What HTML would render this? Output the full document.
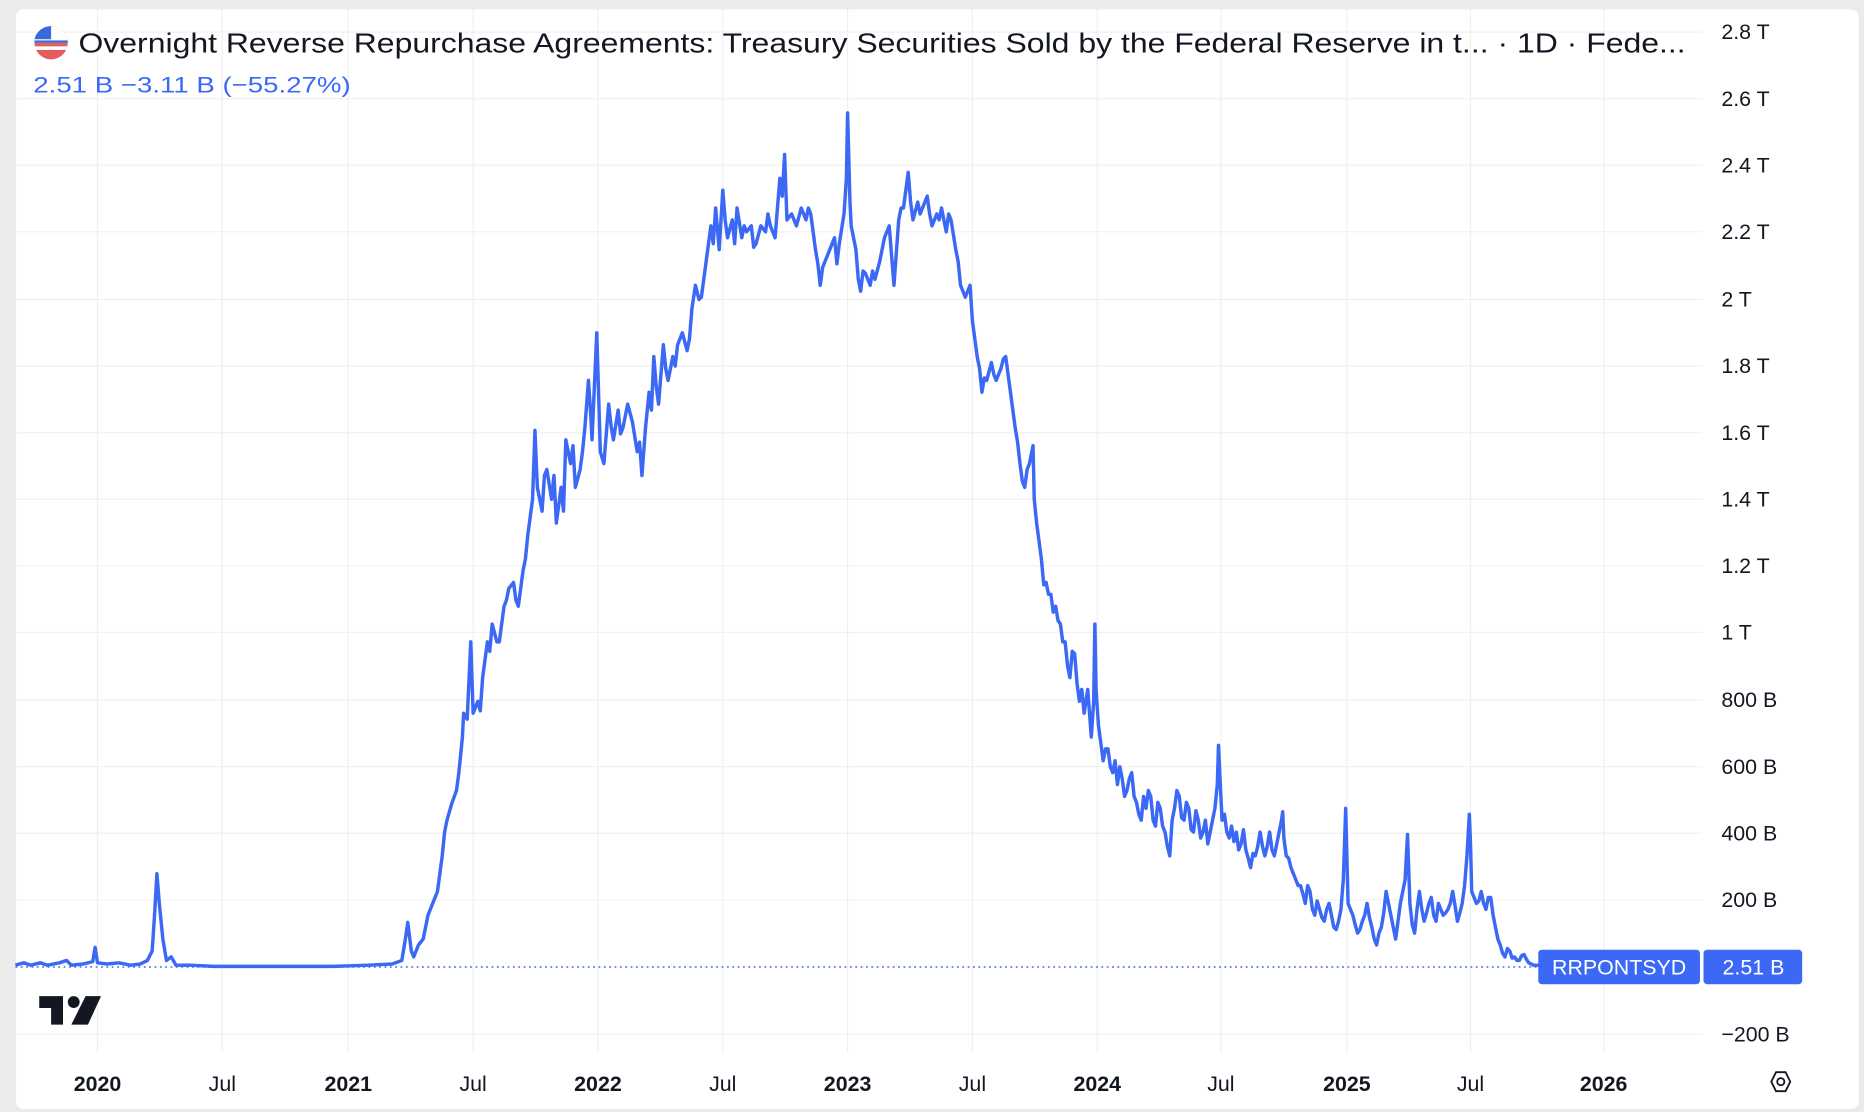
<!DOCTYPE html>
<html><head><meta charset="utf-8"><style>
html,body{margin:0;padding:0;background:#ebebeb;}
svg{display:block;}
text{font-family:"Liberation Sans",Arial,sans-serif;}
</style></head><body>
<svg width="1864" height="1112" viewBox="0 0 1568 935.5" preserveAspectRatio="none" xmlns="http://www.w3.org/2000/svg">
<rect x="0" y="0" width="1568" height="935.5" fill="#ebebeb"/>
<rect x="13.5" y="8" width="1550" height="925" rx="6" fill="#ffffff"/>
<g stroke="#f0f0f0" stroke-width="1">
<line x1="13" x2="1432" y1="27" y2="27"/><line x1="13" x2="1432" y1="83" y2="83"/><line x1="13" x2="1432" y1="139" y2="139"/><line x1="13" x2="1432" y1="195" y2="195"/><line x1="13" x2="1432" y1="252" y2="252"/><line x1="13" x2="1432" y1="308" y2="308"/><line x1="13" x2="1432" y1="364" y2="364"/><line x1="13" x2="1432" y1="420" y2="420"/><line x1="13" x2="1432" y1="476" y2="476"/><line x1="13" x2="1432" y1="532" y2="532"/><line x1="13" x2="1432" y1="589" y2="589"/><line x1="13" x2="1432" y1="645" y2="645"/><line x1="13" x2="1432" y1="701" y2="701"/><line x1="13" x2="1432" y1="757" y2="757"/><line x1="13" x2="1432" y1="870" y2="870"/>
<line x1="82" x2="82" y1="8" y2="886"/><line x1="187" x2="187" y1="8" y2="886"/><line x1="293" x2="293" y1="8" y2="886"/><line x1="398" x2="398" y1="8" y2="886"/><line x1="503" x2="503" y1="8" y2="886"/><line x1="608" x2="608" y1="8" y2="886"/><line x1="713" x2="713" y1="8" y2="886"/><line x1="818" x2="818" y1="8" y2="886"/><line x1="923" x2="923" y1="8" y2="886"/><line x1="1027" x2="1027" y1="8" y2="886"/><line x1="1133" x2="1133" y1="8" y2="886"/><line x1="1237" x2="1237" y1="8" y2="886"/><line x1="1349" x2="1349" y1="8" y2="886"/>
</g>
<line x1="13" x2="1295" y1="813.5" y2="813.5" stroke="#3b68f4" stroke-width="1.3" stroke-dasharray="1.5,3"/>
<polyline fill="none" stroke="#3b68f4" stroke-width="2.9" stroke-linejoin="round" points="13,812 20,810 26,812 34,810 40,812 50,810 56,808 60,812 70,811 78,809 80,797 82,810 90,811 100,810 110,812 118,811 124,808 128,800 130,770 132,735 134,760 137,790 140,808 144,805 148,812 160,812 180,813 220,813 280,813 310,812 330,811 338,808 341,790 343,776 346,800 348,805 352,795 356,790 360,770 364,760 368,750 372,720 374,700 376,690 380,676 384,665 386,650 389,620 390,600 393,605 396,540 398,600 402,590 404,598 406,570 410,540 412,548 414,525 418,540 420,540 424,510 426,505 428,495 432,490 434,505 436,510 440,480 442,470 444,450 446,435 448,420 450,362 452,410 456,430 458,400 460,395 464,420 466,400 468,440 472,410 474,430 476,370 480,390 482,375 484,410 488,395 490,380 492,360 495,320 497,350 498,370 502,280 505,380 508,390 512,340 514,358 516,370 520,345 522,365 524,360 528,340 532,355 536,380 538,372 540,400 543,360 546,330 548,345 550,300 552,325 554,340 558,290 560,310 562,320 566,300 568,308 570,290 574,280 578,295 580,285 582,260 585,240 588,252 590,250 594,220 598,190 600,205 602,175 605,210 608,160 610,185 612,200 616,185 618,205 620,175 624,200 626,190 628,195 632,190 634,208 636,205 640,190 644,195 646,180 648,190 652,200 656,150 658,165 660,130 662,185 666,180 670,190 674,175 678,185 680,175 682,180 686,210 688,222 690,240 692,225 694,220 698,210 702,200 704,222 706,205 710,180 712,150 713,95 715,170 716,190 720,210 722,235 724,245 726,228 728,230 732,240 734,228 736,235 740,220 742,210 744,200 748,190 750,215 752,240 756,185 758,175 760,175 764,145 766,170 768,185 772,170 774,180 776,175 780,165 782,180 784,190 788,180 790,185 792,175 796,195 798,180 800,185 804,210 806,220 808,240 812,250 814,245 816,240 818,270 820,285 822,300 824,310 826,330 828,318 830,320 834,305 836,315 838,320 842,310 844,302 846,300 848,315 850,330 852,345 854,360 856,372 858,390 860,405 862,410 864,395 866,390 869,375 870,420 872,440 874,455 876,470 878,492 880,490 882,500 884,500 886,515 888,510 890,522 892,525 894,540 896,540 898,560 900,570 902,548 904,550 906,575 908,590 910,580 912,600 915,580 918,620 920,590 921,525 922,580 924,610 926,625 928,640 930,630 932,630 934,645 936,650 938,640 940,660 942,645 944,655 946,670 948,665 950,655 952,650 954,670 956,675 958,685 960,690 962,670 964,680 966,665 968,670 970,690 972,695 974,675 976,680 978,695 980,700 982,712 984,720 986,690 988,680 990,665 992,670 994,688 996,690 998,675 1000,680 1002,698 1004,700 1006,682 1008,690 1010,705 1012,700 1014,690 1016,710 1018,700 1020,690 1022,680 1024,660 1025,627 1027,670 1028,690 1030,685 1032,700 1034,705 1036,695 1038,708 1040,700 1042,715 1044,710 1046,698 1048,715 1050,722 1052,730 1054,718 1056,720 1058,712 1060,700 1062,712 1064,720 1066,712 1068,700 1070,715 1072,720 1074,710 1076,700 1078,690 1079,683 1080,705 1082,720 1084,722 1086,730 1088,735 1090,740 1092,745 1094,745 1096,752 1098,760 1100,745 1102,750 1104,765 1106,770 1108,758 1110,765 1112,772 1114,775 1116,765 1118,760 1120,770 1122,780 1124,782 1126,775 1128,765 1130,740 1132,680 1133,720 1134,760 1136,765 1138,770 1140,778 1142,785 1144,782 1146,775 1148,770 1150,760 1152,772 1154,780 1156,790 1158,795 1160,785 1162,780 1164,768 1166,750 1168,760 1170,770 1172,780 1174,790 1176,775 1178,760 1180,750 1182,740 1184,702 1186,760 1188,778 1190,785 1192,765 1194,750 1196,765 1198,775 1200,768 1202,760 1204,755 1206,770 1208,775 1210,760 1212,765 1214,770 1216,768 1218,765 1220,760 1222,750 1224,762 1226,775 1228,768 1230,760 1232,745 1234,720 1236,685 1237,710 1238,750 1240,755 1242,760 1244,758 1246,750 1248,760 1250,765 1252,755 1254,755 1256,770 1258,780 1260,790 1262,795 1264,802 1266,805 1268,798 1270,800 1272,806 1274,805 1276,808 1278,808 1280,804 1282,803 1284,807 1286,810 1288,811 1290,812 1295,812"/>
<g font-size="18" fill="#131722">
<text x="1448" y="33">2.8 T</text><text x="1448" y="89">2.6 T</text><text x="1448" y="145">2.4 T</text><text x="1448" y="201">2.2 T</text><text x="1448" y="258">2 T</text><text x="1448" y="314">1.8 T</text><text x="1448" y="370">1.6 T</text><text x="1448" y="426">1.4 T</text><text x="1448" y="482">1.2 T</text><text x="1448" y="538">1 T</text><text x="1448" y="595">800 B</text><text x="1448" y="651">600 B</text><text x="1448" y="707">400 B</text><text x="1448" y="763">200 B</text><text x="1448" y="876">−200 B</text>
</g>
<rect x="1294" y="799" width="136" height="29" rx="3" fill="#3b68f4"/>
<rect x="1433" y="799" width="83" height="29" rx="3" fill="#3b68f4"/>
<text x="1362" y="820" font-size="18" fill="#fff" text-anchor="middle">RRPONTSYD</text>
<text x="1475" y="820" font-size="18" fill="#fff" text-anchor="middle">2.51 B</text>
<g font-size="18" fill="#131722" text-anchor="middle">
<text x="82" y="918" font-weight="bold">2020</text><text x="187" y="918">Jul</text><text x="293" y="918" font-weight="bold">2021</text><text x="398" y="918">Jul</text><text x="503" y="918" font-weight="bold">2022</text><text x="608" y="918">Jul</text><text x="713" y="918" font-weight="bold">2023</text><text x="818" y="918">Jul</text><text x="923" y="918" font-weight="bold">2024</text><text x="1027" y="918">Jul</text><text x="1133" y="918" font-weight="bold">2025</text><text x="1237" y="918">Jul</text><text x="1349" y="918" font-weight="bold">2026</text>
</g>
<polygon points="1490,910 1494,902 1502,902 1506,910 1502,918 1494,918" fill="none" stroke="#131722" stroke-width="1.5"/>
<circle cx="1498" cy="910" r="3" fill="none" stroke="#131722" stroke-width="1.5"/>
<g fill="#131722">
<path d="M33,838 H53 V862 H43 V848 H33 Z"/>
<circle cx="62" cy="843" r="5"/>
<path d="M72,838 H85 L74,862 H60 Z"/>
</g>
<circle cx="43" cy="36" r="14" fill="#e35d5d"/>
<path d="M29,36 A14,14 0 0 1 57,36 Z" fill="#fff"/>
<path d="M29,33 A14,14 0 0 1 43,22 V33 Z" fill="#3a6ad9"/>
<rect x="29" y="34" width="28" height="2" fill="#3a6ad9"/>
<rect x="29" y="39" width="28" height="3" fill="#fff"/>
<text x="66" y="44" font-size="23" fill="#131722" textLength="1352" lengthAdjust="spacingAndGlyphs">Overnight Reverse Repurchase Agreements: Treasury Securities Sold by the Federal Reserve in t... · 1D · Fede...</text>
<text x="28" y="78" font-size="19" fill="#3b68f4" textLength="267" lengthAdjust="spacingAndGlyphs">2.51 B  −3.11 B (−55.27%)</text>
</svg>
</body></html>
